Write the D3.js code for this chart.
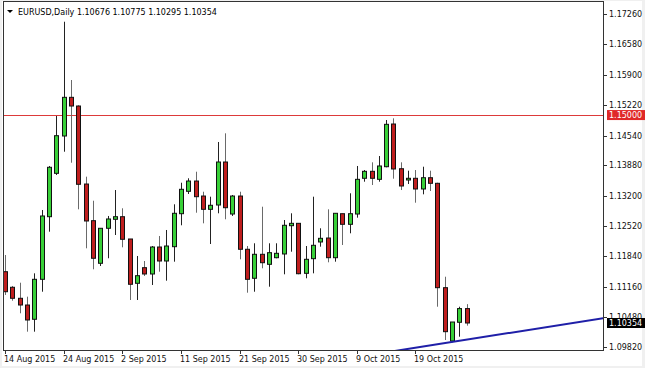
<!DOCTYPE html>
<html><head><meta charset="utf-8">
<script src="https://cdn.jsdelivr.net/npm/d3@7"></script>
<style>
html,body{margin:0;padding:0;background:#f0f0f0;}
svg{display:block;}
text{font-family:"DejaVu Sans",sans-serif;font-size:8px;}
</style></head><body>
<script>
const symbol = "EURUSD,Daily";
const dates = ["2015-08-14","2015-08-16","2015-08-17","2015-08-18","2015-08-19","2015-08-20","2015-08-21",
"2015-08-23","2015-08-24","2015-08-25","2015-08-26","2015-08-27","2015-08-28",
"2015-08-30","2015-08-31","2015-09-01","2015-09-02","2015-09-03","2015-09-04",
"2015-09-06","2015-09-07","2015-09-08","2015-09-09","2015-09-10","2015-09-11",
"2015-09-13","2015-09-14","2015-09-15","2015-09-16","2015-09-17","2015-09-18",
"2015-09-20","2015-09-21","2015-09-22","2015-09-23","2015-09-24","2015-09-25",
"2015-09-27","2015-09-28","2015-09-29","2015-09-30","2015-10-01","2015-10-02",
"2015-10-04","2015-10-05","2015-10-06","2015-10-07","2015-10-08","2015-10-09",
"2015-10-11","2015-10-12","2015-10-13","2015-10-14","2015-10-15","2015-10-16",
"2015-10-18","2015-10-19","2015-10-20","2015-10-21","2015-10-22","2015-10-23",
"2015-10-25","2015-10-26","2015-10-27"];
const open = [1.11500,1.11152,1.10906,1.10756,1.10437,1.11330,1.12729,
1.13698,1.14532,1.15396,1.15202,1.13459,1.12640,
1.11688,1.12470,1.12671,1.12729,1.12231,1.11241,
1.11590,1.11449,1.12052,1.11739,1.12059,1.12796,
1.13296,1.13526,1.13191,1.12894,1.12990,1.13951,
1.12789,1.13191,1.12001,1.11353,1.11889,1.11665,
1.11813,1.11896,1.12528,1.12581,1.11464,1.11791,
1.12164,1.12253,1.11813,1.12796,1.12559,1.12789,
1.13587,1.13743,1.13564,1.13846,1.14800,1.13801,
1.13549,1.13587,1.13348,1.13600,1.13475,1.11143,
1.09952,1.10370,1.10676];
const high = [1.11873,1.11181,1.11254,1.10942,1.11464,1.12879,1.13862,
1.14979,1.17085,1.15783,1.15218,1.13623,1.13086,
1.12470,1.12745,1.13325,1.12917,1.12231,1.11851,
1.11739,1.12074,1.12298,1.12432,1.13006,1.13488,
1.13587,1.13734,1.13287,1.13176,1.14398,1.14592,
1.13214,1.13287,1.12074,1.12135,1.12952,1.12135,
1.12135,1.12655,1.12805,1.12581,1.12074,1.13176,
1.12470,1.12894,1.12805,1.12796,1.13252,1.13862,
1.13772,1.13944,1.14085,1.14889,1.14927,1.13944,
1.13757,1.13772,1.13846,1.13757,1.13488,1.11388,
1.10376,1.10718,1.10775];
const low = [1.10980,1.10852,1.10571,1.10160,1.10160,1.11053,1.12394,
1.13661,1.14181,1.13935,1.12894,1.12023,1.11554,
1.11627,1.11800,1.12320,1.12045,1.10868,1.10868,
1.11404,1.11203,1.11500,1.11299,1.11724,1.12537,
1.13236,1.12818,1.12581,1.12119,1.12805,1.12671,
1.12745,1.11777,1.11031,1.11053,1.11576,1.11165,
1.11800,1.11442,1.11947,1.11442,1.11353,1.11464,
1.12059,1.11710,1.11724,1.12097,1.12358,1.12707,
1.13511,1.13437,1.13511,1.13833,1.13578,1.13325,
1.13459,1.13042,1.13229,1.13303,1.10718,1.09974,
1.09923,1.10048,1.10295];
const close = [1.11053,1.10906,1.10756,1.10421,1.11330,1.12745,1.13833,
1.14539,1.15396,1.15202,1.13453,1.12633,1.11800,
1.12470,1.12678,1.12729,1.12224,1.11219,1.11411,
1.11449,1.12052,1.11739,1.12074,1.12805,1.13341,
1.13526,1.13176,1.12894,1.12984,1.13951,1.12930,
1.13191,1.12001,1.11330,1.11889,1.11701,1.11925,
1.11911,1.12537,1.12581,1.11455,1.11777,1.12090,
1.12246,1.11813,1.12805,1.12559,1.12796,1.13564,
1.13743,1.13587,1.13862,1.14793,1.13795,1.13415,
1.13587,1.13348,1.13600,1.13475,1.11143,1.10160,
1.10376,1.10676,1.10354];
const priceTicks = [1.17260,1.16580,1.15900,1.15220,1.14540,1.13880,1.13200,1.12520,1.11840,1.11160,1.10480,1.09820];
const dateTicks = ["2015-08-14","2015-08-24","2015-09-02","2015-09-11","2015-09-21","2015-09-30","2015-10-09","2015-10-19"];
const dateTickLabels = ["14 Aug 2015","24 Aug 2015","2 Sep 2015","11 Sep 2015","21 Sep 2015","30 Sep 2015","9 Oct 2015","19 Oct 2015"];
const levelLine = 1.15000;
const trendDates = ["2015-10-16","2015-10-27"];
const trendPrices = [1.09750,1.09982];

const W = 645, H = 368;
const L = 4, R = 603, T = 1, B = 350;

const svg = d3.select("body").append("svg").attr("width", W).attr("height", H);
svg.append("rect").attr("x",2).attr("y",1).attr("width",640).attr("height",365).attr("fill","#fff");

const x = d3.scalePoint().domain(dates).range([5, 466.8]);
const y = d3.scaleLinear().domain([1.09820, 1.17260]).range([346.9, 13.9]);

svg.append("defs").append("clipPath").attr("id","clip")
  .append("rect").attr("x",L).attr("y",T).attr("width",R-L).attr("height",B-T);
const plot = svg.append("g").attr("clip-path","url(#clip)");

// level line
plot.append("line").attr("x1",L).attr("x2",R)
  .attr("y1",Math.round(y(levelLine))+0.5).attr("y2",Math.round(y(levelLine))+0.5)
  .attr("stroke","#dd3a3a").attr("stroke-width",1);

// candles
const data = dates.map((d,i)=>({d, o:open[i], h:high[i], l:low[i], c:close[i]}));
const g = plot.selectAll("g.c").data(data).enter().append("g");
g.append("line")
  .attr("x1",d=>Math.round(x(d.d))+0.5).attr("x2",d=>Math.round(x(d.d))+0.5)
  .attr("y1",d=>y(d.h)).attr("y2",d=>y(d.l))
  .attr("stroke",d=>d.c>=d.o?"#222":"#6a6a6a").attr("stroke-width",1);
g.append("rect")
  .attr("x",d=>Math.round(x(d.d))-2+0.5)
  .attr("width",4)
  .attr("y",d=>y(Math.max(d.o,d.c)))
  .attr("height",d=>Math.max(1,y(Math.min(d.o,d.c))-y(Math.max(d.o,d.c))))
  .attr("fill",d=>d.c>=d.o?"#38d038":"#bf1e1e")
  .attr("stroke","#111").attr("stroke-width",1);

// trend line extended both ways
const i0 = dates.indexOf(trendDates[0]), i1 = dates.indexOf(trendDates[1]);
const slope = (trendPrices[1]-trendPrices[0])/(i1-i0);
const xi = d3.scaleLinear().domain([0, dates.length-1]).range([x(dates[0]), x(dates[dates.length-1])]);
const ia = 30, ib = 100;
plot.append("line")
  .attr("x1",xi(ia)).attr("y1",y(trendPrices[0]+slope*(ia-i0)))
  .attr("x2",xi(ib)).attr("y2",y(trendPrices[0]+slope*(ib-i0)))
  .attr("stroke","#1f1fa8").attr("stroke-width",2);

// frame
svg.append("rect").attr("x",L-0.5).attr("y",T+0.5).attr("width",R-L+1).attr("height",B-T)
  .attr("fill","none").attr("stroke","#333");

// y axis
const ya = svg.append("g");
priceTicks.forEach(p=>{
  const yy = Math.round(y(p))+0.5;
  ya.append("line").attr("x1",R+0.5).attr("x2",R+4).attr("y1",yy).attr("y2",yy).attr("stroke","#333");
  ya.append("text").attr("x",609).attr("y",yy).attr("dy","0.35em").attr("fill","#111").text(p.toFixed(5));
});
// level label
const ly = y(levelLine);
ya.append("rect").attr("x",607).attr("y",ly-5).attr("width",38).attr("height",10).attr("fill","#e02828");
ya.append("text").attr("x",609).attr("y",ly).attr("dy","0.35em").attr("fill","#fff").text(levelLine.toFixed(5));
// last price label
const lastC = close[close.length-1];
const cy = y(lastC);
ya.append("rect").attr("x",607).attr("y",cy-5).attr("width",38).attr("height",10).attr("fill","#000");
ya.append("text").attr("x",609).attr("y",cy).attr("dy","0.35em").attr("fill","#fff").text(lastC.toFixed(5));

// x axis
const xa = svg.append("g");
dateTicks.forEach((d,k)=>{
  const xx = Math.round(x(d))+0.5;
  xa.append("line").attr("x1",xx).attr("x2",xx).attr("y1",B+1).attr("y2",B+4).attr("stroke","#333");
  xa.append("text").attr("x",xx-1.5).attr("y",359).attr("dy","0.35em").attr("fill","#111").text(dateTickLabels[k]);
});

// header
const n = dates.length-1;
svg.append("path").attr("d","M7,10 L13,10 L10,13 Z").attr("fill","#000");
svg.append("text").attr("x",18).attr("y",12).attr("dy","0.35em").attr("fill","#000")
  .text(symbol+"  "+[open[n],high[n],low[n],close[n]].map(v=>v.toFixed(5)).join(" "));
</script>
</body></html>
